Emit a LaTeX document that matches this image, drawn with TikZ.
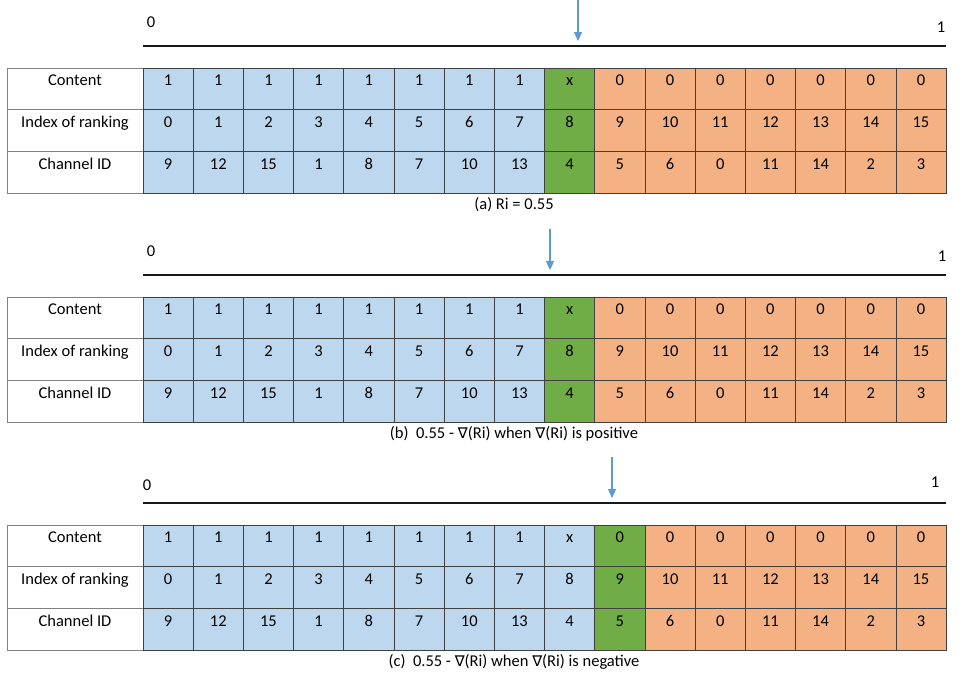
\documentclass[tikz,border=0pt]{standalone}
\usepackage{fontspec}
\setmainfont{Carlito}
\newfontfamily\djvfont[Scale=0.9]{DejaVu Sans}
\usetikzlibrary{arrows.meta}
\usetikzlibrary{positioning}
\definecolor{rankblue}{HTML}{BDD7EE}
\definecolor{rankgreen}{HTML}{70AD47}
\definecolor{rankorange}{HTML}{F4B183}
\definecolor{pointer}{HTML}{5B9BD5}
\newcommand{\grad}{{\djvfont ∇}}
\tikzset{
    cell/.style={
           rectangle,
           draw=black!75, line width=0.7pt,
           minimum width=50.19pt,
           inner sep=0pt, outer sep=0pt,
           text height=17.8pt, text depth=23.9pt,
           },
}
\tikzset{
    rowlabel/.style={
           rectangle,
           draw=black!50, line width=0.7pt,
           minimum width=136pt,
           inner sep=0pt, outer sep=0pt,
           text height=17.8pt, text depth=23.9pt,
           },
}
\tikzset{
    scale line/.style={black!90, line width=2pt},
    pointer arrow/.style={pointer, line width=1.1pt, -{Triangle[length=9pt,width=8pt]}},
}

\begin{document}
\begin{tikzpicture}[x=1pt,y=-1pt,font=\fontsize{16.5}{20}\selectfont]
\useasboundingbox[fill=white] (0,0) rectangle (976,681);
% one panel per ranking position of the pointer
\foreach \p/\top/\g/\ax/\zx/\zy/\ox/\oy/\cap in {
    a/68/8/578/151/22/941/27/{(a) Ri = 0.55},
    b/297/8/550/151/251/942/256/{(b)~~0.55 - \grad(Ri) when \grad(Ri) is positive},
    c/525/9/612/147/485/935/482/{(c)~~0.55 - \grad(Ri) when \grad(Ri) is negative}}{
  % scale from 0 to 1
  \coordinate (\p-l0) at (143,\top-22);
  \coordinate (\p-l1) at (946,\top-22);
  \draw[scale line] (\p-l0) -- (\p-l1);
  \node (\p-zero) at (\zx,\zy) {0};
  \node (\p-one) at (\ox,\oy) {1};
  \coordinate (\p-tip) at (\ax,\top-27);
  \coordinate[above=41pt of \p-tip] (\p-tail);
  \draw[pointer arrow] (\p-tail) -- (\p-tip);
  % table rows
  \foreach \r/\lab/\vals [count=\k from 0] in {
      c/Content/{1,1,1,1,1,1,1,1,x,0,0,0,0,0,0,0},
      i/Index of ranking/{0,1,2,3,4,5,6,7,8,9,10,11,12,13,14,15},
      h/Channel ID/{9,12,15,1,8,7,10,13,4,5,6,0,11,14,2,3}}{
    \node[rowlabel] (\p\r-lab) at (75,\top+41.7*\k+20.85) {\lab};
    \foreach \v [count=\i from 0] in \vals {
      \ifnum\i<\g \def\fc{rankblue}\else
        \ifnum\i=\g \def\fc{rankgreen}\else \def\fc{rankorange}\fi\fi
      \node[cell,fill=\fc] (\p\r\i) at (143+50.19*\i+25.1,\top+41.7*\k+20.85) {\v};
    }
  }
  \node (\p-cap) at (514,\top+137) {\cap};
}
\end{tikzpicture}
\end{document}
